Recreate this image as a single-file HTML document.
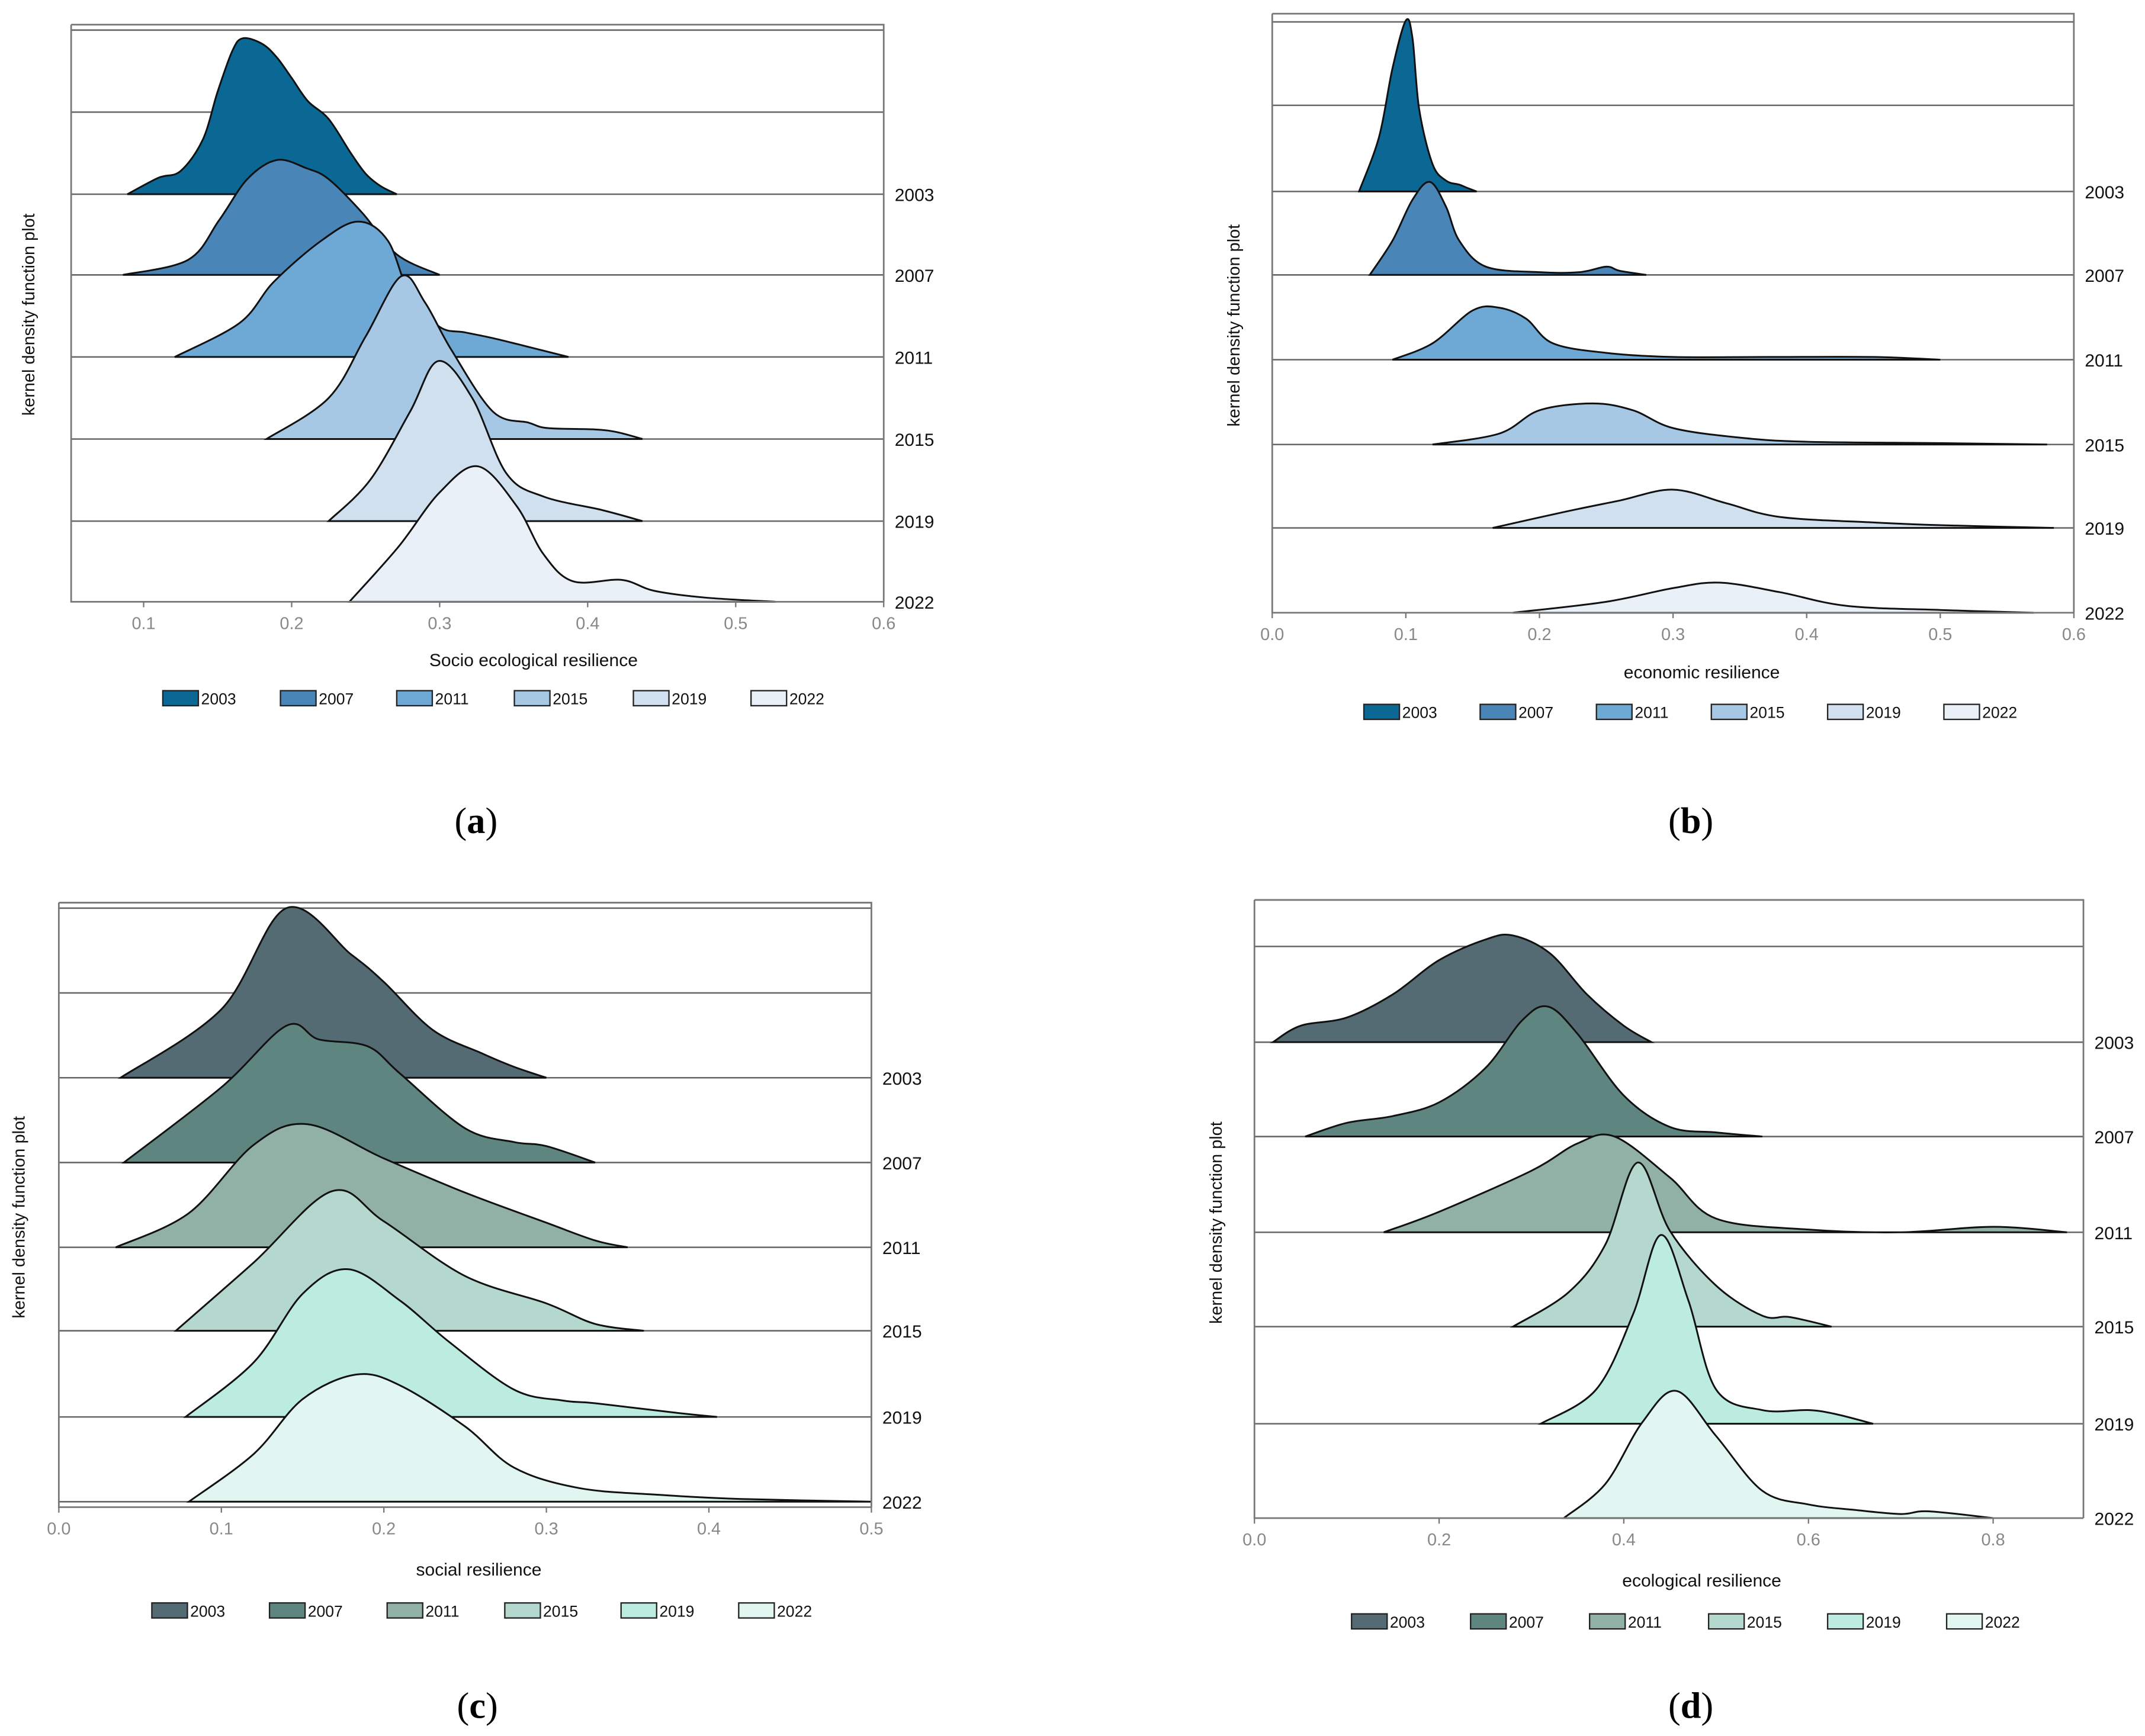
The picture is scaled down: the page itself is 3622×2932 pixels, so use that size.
<!DOCTYPE html>
<html><head><meta charset="utf-8"><style>
html,body{margin:0;padding:0;background:#fff}
svg{display:block}
text{font-family:"Liberation Sans",sans-serif}
</style></head><body>
<svg id="chart" width="3622" height="2932" viewBox="0 0 1568 1269.3" xmlns="http://www.w3.org/2000/svg"></svg>
<script>
const years=["2003","2007","2011","2015","2019","2022"];
const blueColors=["#0b6894","#4a85b8","#6ea8d5","#a7c8e4","#d0e0ee","#eaf0f7"];
const greenColors=["#556b74","#5f8580","#91b0a6","#b4d8ce","#bcece0","#e1f6f1"];
const aX=[
[0.089,0.11,0.125,0.14,0.15,0.16,0.167,0.18,0.19,0.2,0.211,0.225,0.24,0.25,0.26,0.271],
[0.086,0.13,0.151,0.17,0.19,0.21,0.225,0.248,0.271,0.3],
[0.121,0.165,0.188,0.22,0.245,0.265,0.28,0.3,0.317,0.335,0.354,0.387],
[0.183,0.225,0.25,0.274,0.29,0.308,0.336,0.36,0.373,0.405,0.42,0.437],
[0.225,0.253,0.28,0.299,0.322,0.345,0.37,0.41,0.437],
[0.239,0.272,0.3,0.326,0.352,0.37,0.39,0.423,0.445,0.48,0.527]];
const aY=[
[0,12,17,40,75,105,114,110,100,85,68,55,30,15,6,0],
[0,11,40,70,84,78,70,45,15,0],
[0,25,55,85,99,85,45,22,18,14,9,0],
[0,30,75,119,100,65,20,12,8,7,5,0],
[0,30,80,117,90,35,18,8,0],
[0,40,80,99,70,35,15,16,8,3,0]];
const bX=[
[0.065,0.08,0.09,0.1,0.105,0.11,0.12,0.13,0.14,0.145,0.153],
[0.073,0.09,0.105,0.118,0.13,0.14,0.16,0.2,0.23,0.25,0.26,0.28],
[0.09,0.12,0.15,0.17,0.19,0.21,0.25,0.3,0.37,0.45,0.5],
[0.12,0.17,0.2,0.24,0.27,0.3,0.35,0.4,0.5,0.58],
[0.165,0.22,0.26,0.3,0.34,0.38,0.45,0.5,0.585],
[0.18,0.25,0.3,0.335,0.38,0.43,0.5,0.57]];
const bY=[
[0,40,90,125,112,60,20,8,5,3,0],
[0,25,55,68,50,25,6,2,2,6,3,0],
[0,12,36,38,30,12,5,2,2,2,0],
[0,8,25,30,25,12,5,2,1,0],
[0,12,20,28,18,8,4,2,0],
[0,8,18,22,15,5,2,0]];
const cX=[
[0.038,0.1,0.14,0.18,0.2,0.23,0.26,0.28,0.3],
[0.04,0.1,0.14,0.16,0.19,0.21,0.25,0.28,0.3,0.33],
[0.035,0.08,0.12,0.153,0.2,0.25,0.3,0.33,0.35],
[0.072,0.12,0.168,0.2,0.25,0.3,0.33,0.36],
[0.078,0.12,0.15,0.178,0.21,0.24,0.28,0.31,0.33,0.38,0.405],
[0.08,0.12,0.15,0.183,0.21,0.25,0.28,0.32,0.37,0.42,0.5]];
const cY=[
[0,50,124,90,70,35,18,8,0],
[0,55,100,90,85,65,25,15,12,0],
[0,25,75,90,65,40,18,5,0],
[0,50,102,80,40,20,5,0],
[0,40,90,108,85,55,20,12,10,3,0],
[0,35,75,93,85,55,25,10,5,2,0]];
const dX=[
[0.02,0.05,0.1,0.15,0.2,0.25,0.28,0.32,0.36,0.4,0.43],
[0.055,0.1,0.15,0.2,0.25,0.29,0.318,0.35,0.4,0.45,0.5,0.55],
[0.14,0.2,0.3,0.35,0.39,0.45,0.5,0.6,0.7,0.8,0.88],
[0.28,0.34,0.38,0.415,0.45,0.5,0.55,0.58,0.625],
[0.31,0.37,0.41,0.44,0.47,0.5,0.55,0.6,0.63,0.67],
[0.335,0.38,0.42,0.457,0.5,0.55,0.6,0.65,0.7,0.73,0.8]];
const dY=[
[0,12,18,35,60,75,78,65,35,12,0],
[0,10,15,25,50,85,95,75,30,7,3,0],
[0,15,45,65,70,40,10,2,0,4,0],
[0,25,60,120,70,30,8,7,0],
[0,25,80,138,90,25,10,10,7,0],
[0,25,70,93,60,20,10,6,3,5,0]];
const aTicks=["0.1","0.2","0.3","0.4","0.5","0.6"], bTicks=["0.0","0.1","0.2","0.3","0.4","0.5","0.6"];
const cTicks=["0.0","0.1","0.2","0.3","0.4","0.5"], dTicks=["0.0","0.2","0.4","0.6","0.8"];

const svg=document.getElementById('chart');
const NS="http://www.w3.org/2000/svg";
function mk(tag,attrs,parent){const e=document.createElementNS(NS,tag);for(const k in attrs)e.setAttribute(k,attrs[k]);(parent||svg).appendChild(e);return e;}
function spline(pts){let d=`M${pts[0][0]},${pts[0][1]}`;for(let i=0;i<pts.length-1;i++){const p0=pts[Math.max(0,i-1)],p1=pts[i],p2=pts[i+1],p3=pts[Math.min(pts.length-1,i+2)];
const c1=[p1[0]+(p2[0]-p0[0])/6,p1[1]+(p2[1]-p0[1])/6],c2=[p2[0]-(p3[0]-p1[0])/6,p2[1]-(p3[1]-p1[1])/6];
d+=` C${c1[0]},${c1[1]} ${c2[0]},${c2[1]} ${p2[0]},${p2[1]}`;}return d;}

function panel(cfg){
 const g=mk('g',{});
 
 
 const sx=v=>cfg.x0+(v-cfg.v0)*cfg.k;
 cfg.lines.forEach(y=>{const l=mk('line',{x1:cfg.left,x2:cfg.right,y1:y,y2:y,stroke:'#666','stroke-width':1.1},g);
  });
 cfg.X.forEach((xs,i)=>{const base=cfg.bases[i];const pts=xs.map((v,j)=>[sx(v),base-cfg.Y[i][j]]);
  const p=mk('path',{d:spline(pts)+` L${pts[pts.length-1][0]},${base} L${pts[0][0]},${base} Z`,fill:cfg.colors[i],stroke:'#111','stroke-width':1.3},g);
  
  const t=mk('text',{x:cfg.right+8,y:base+5,'font-size':13,fill:'#111'},g);t.textContent=years[i];
  });
 const fr=mk('path',{d:`M${cfg.left},${cfg.top} L${cfg.right},${cfg.top} L${cfg.right},${cfg.bottom} M${cfg.left},${cfg.top} L${cfg.left},${cfg.bottom} L${cfg.right},${cfg.bottom}`,fill:'none',stroke:'#777','stroke-width':1.2},g);
 
 cfg.ticks.forEach(tk=>{const x=sx(parseFloat(tk));mk('line',{x1:x,x2:x,y1:cfg.bottom,y2:cfg.bottom+4,stroke:'#777'},g);
  const t=mk('text',{x:x,y:cfg.bottom+20,'font-size':12.5,fill:'#888','text-anchor':'middle'},g);t.textContent=tk;
  });
 const xt=mk('text',{x:cfg.xt[0],y:cfg.xt[1],'font-size':13,fill:'#111','text-anchor':'middle'},g);xt.textContent=cfg.title;
 
 const yt=mk('text',{x:0,y:0,transform:`translate(${cfg.yt[0]},${cfg.yt[1]}) rotate(-90)`,'font-size':12.5,fill:'#111','text-anchor':'middle'},g);yt.textContent='kernel density function plot';
 
 cfg.leg.forEach((lx,i)=>{const r=mk('rect',{x:lx,y:cfg.legY-6,width:26,height:11,fill:cfg.colors[i],stroke:'#222','stroke-width':1},g);
  
  const t=mk('text',{x:lx+28,y:cfg.legY+4,'font-size':11.5,fill:'#111'},g);t.textContent=years[i];
  });
 const cap=mk('text',{x:cfg.cap[0],y:cfg.cap[1],'font-size':27,fill:'#000','text-anchor':'middle',style:'font-family:"Liberation Serif",serif'},g);
 cap.innerHTML=`(<tspan font-weight="bold">${cfg.id}</tspan>)`;
 
}
panel({id:'a',left:52,right:646,top:18,bottom:440,x0:105,v0:0.1,k:1082,lines:[22,82,142,201,261,321,381],bases:[142,201,261,321,381,440],
 X:aX,Y:aY,colors:blueColors,ticks:aTicks,title:'Socio ecological resilience',xt:[390,487],yt:[25,230],leg:[119,205,290,376,463,549],legY:511,cap:[348,609]});
panel({id:'b',left:930,right:1516,top:10,bottom:448,x0:930,v0:0,k:976.7,lines:[16,77,140,201,263,325,386],bases:[140,201,263,325,386,448],
 X:bX,Y:bY,colors:blueColors,ticks:bTicks,title:'economic resilience',xt:[1244,496],yt:[906,238],leg:[997,1082,1167,1251,1336,1421],legY:521,cap:[1236,609]});
panel({id:'c',left:43,right:637,top:660,bottom:1102,x0:43,v0:0,k:1188,lines:[664,726,788,850,912,973,1036,1098],bases:[788,850,912,973,1036,1098],
 X:cX,Y:cY,colors:greenColors,ticks:cTicks,title:'social resilience',xt:[350,1152],yt:[18,890],leg:[111,197,283,369,454,540],legY:1178,cap:[349,1256]});
panel({id:'d',left:917,right:1523,top:658,bottom:1110,x0:917,v0:0,k:675,lines:[692,762,831,901,970,1041],bases:[762,831,901,970,1041,1110],
 X:dX,Y:dY,colors:greenColors,ticks:dTicks,title:'ecological resilience',xt:[1244,1160],yt:[893,894],leg:[988,1075,1162,1249,1336,1423],legY:1186,cap:[1236,1256]});
</script>
</body></html>
